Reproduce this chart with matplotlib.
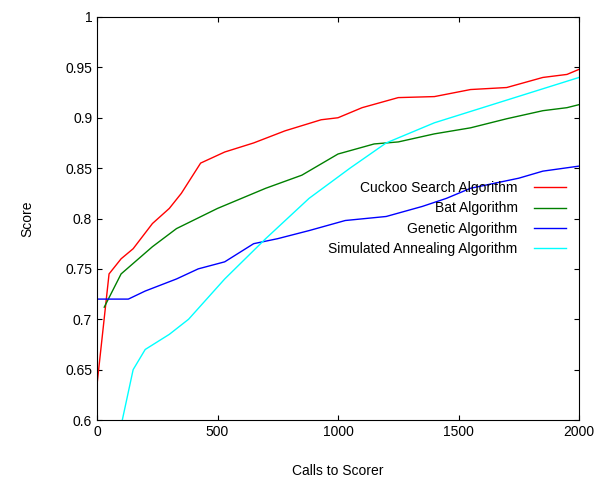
import matplotlib
matplotlib.use("Agg")
import matplotlib.pyplot as plt

cuckoo_x = [0, 50, 100, 150, 230, 300, 350, 430, 530, 650, 780, 930, 1000, 1100, 1250, 1400, 1550, 1700, 1850, 1950, 2000]
cuckoo_y = [0.635, 0.745, 0.76, 0.77, 0.795, 0.81, 0.825, 0.855, 0.866, 0.875, 0.887, 0.898, 0.9, 0.91, 0.92, 0.921, 0.928, 0.93, 0.94, 0.943, 0.948]
bat_x = [30, 100, 230, 330, 500, 700, 850, 1000, 1150, 1250, 1400, 1550, 1700, 1850, 1950, 2000]
bat_y = [0.712, 0.745, 0.772, 0.79, 0.81, 0.83, 0.843, 0.864, 0.874, 0.876, 0.884, 0.89, 0.899, 0.907, 0.91, 0.913]
gen_x = [0, 130, 200, 330, 420, 530, 650, 750, 880, 1030, 1200, 1350, 1450, 1550, 1750, 1850, 2000]
gen_y = [0.72, 0.72, 0.728, 0.74, 0.75, 0.757, 0.775, 0.78, 0.788, 0.798, 0.802, 0.812, 0.82, 0.83, 0.84, 0.847, 0.852]
sa_x = [105, 150, 200, 300, 380, 530, 700, 880, 1050, 1200, 1400, 1600, 1800, 2000]
sa_y = [0.6, 0.65, 0.67, 0.685, 0.7, 0.74, 0.78, 0.82, 0.85, 0.875, 0.895, 0.91, 0.925, 0.94]

plt.rcParams["font.family"] = "Liberation Sans"
fig = plt.figure(figsize=(6, 4.8), dpi=100)
ax = fig.add_axes([97/600, 60/480, 482/600, 403/480])
ax.plot(cuckoo_x, cuckoo_y, color="red", lw=1, label="Cuckoo Search Algorithm")
ax.plot(bat_x, bat_y, color="green", lw=1, label="Bat Algorithm")
ax.plot(gen_x, gen_y, color="blue", lw=1, label="Genetic Algorithm")
ax.plot(sa_x, sa_y, color="cyan", lw=1, label="Simulated Annealing Algorithm")
ax.set_xlim(0, 2000)
ax.set_ylim(0.6, 1.0)
ax.set_xticks([0, 500, 1000, 1500, 2000])
ax.set_yticks([0.6, 0.65, 0.7, 0.75, 0.8, 0.85, 0.9, 0.95, 1.0])
ax.set_yticklabels(["0.6", "0.65", "0.7", "0.75", "0.8", "0.85", "0.9", "0.95", "1"])
ax.tick_params(direction="in", top=True, right=True, labelsize=10)
ax.set_xlabel("Calls to Scorer", fontsize=10, labelpad=18)
ax.set_ylabel("Score", fontsize=10, labelpad=22)
leg = ax.legend(loc="center right", bbox_to_anchor=(0.985, 0.5), frameon=False, markerfirst=False,
                fontsize=10, handlelength=2.3, handletextpad=1.2, labelspacing=0.45, borderaxespad=0.0)
for t in leg.get_texts():
    t.set_ha("right")
leg._legend_box.align = "right"
fig.savefig("out.png", dpi=100)
